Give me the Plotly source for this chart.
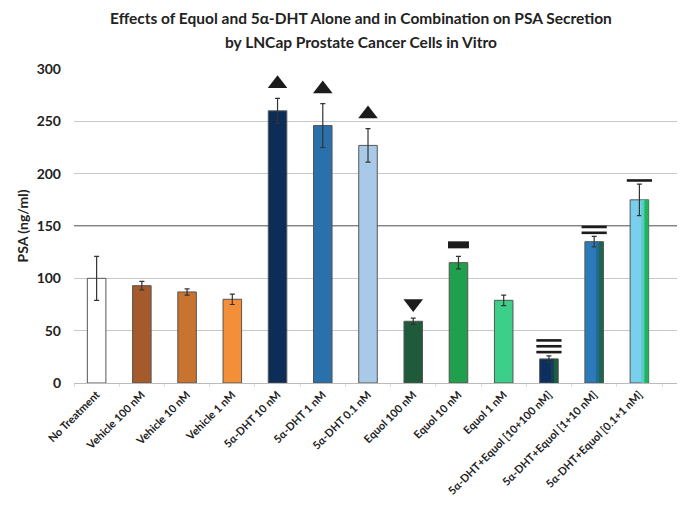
import plotly.graph_objects as go

categories = [
    "No Treatment", "Vehicle 100 nM", "Vehicle 10 nM", "Vehicle 1 nM",
    "5α-DHT 10 nM", "5α-DHT 1 nM", "5α-DHT 0.1 nM",
    "Equol 100 nM", "Equol 10 nM", "Equol 1 nM",
    "5α-DHT+Equol [10+100 nM]", "5α-DHT+Equol [1+10 nM]", "5α-DHT+Equol [0.1+1 nM]",
]
psa = [100, 93, 87, 80, 260, 246, 227, 59, 115, 79, 23, 135, 175]
psa_err = [21, 4, 3, 5, 12, 21, 16, 3, 6, 5, 3, 5, 15]
bar_colors = [
    "#ffffff", "#a55a2c", "#c8732f", "#f28f38",
    "#0c2d57", "#2a71ab", "#a9c9e8",
    "#1f5a3a", "#20a04c", "#3ccf8a",
    "#0d2f60", "#2b7bb8", "#78d0ee",
]
# right-hand colours of the two-tone combination bars
combo_cats = categories[10:]
combo_mid = ["#143f55", "#22699a", "#5ccbc4"]
combo_end = ["#1f5c42", "#1f6648", "#20b45c"]

# significance symbols above bars
sym_cats = ["5α-DHT 10 nM", "5α-DHT 1 nM", "5α-DHT 0.1 nM", "Equol 100 nM"]
sym_kind = ["triangle-up", "triangle-up", "triangle-up", "triangle-down"]
bar_cats = ["Equol 10 nM"]
line_cats = ["5α-DHT+Equol [10+100 nM]", "5α-DHT+Equol [1+10 nM]", "5α-DHT+Equol [0.1+1 nM]"]
line_counts = [3, 2, 1]

title_lines = [
    "Effects of Equol and 5α-DHT Alone and in Combination on PSA Secretion",
    "by LNCap Prostate Cancer Cells in Vitro",
]

top = {c: v + e for c, v, e in zip(categories, psa, psa_err)}
FONT = "Lato, 'Noto Sans', sans-serif"
DARK = "#1c1c1c"

fig = go.Figure()
fig.add_trace(go.Bar(
    x=categories, y=psa, width=0.41,
    marker=dict(color=bar_colors, line=dict(color="#555555", width=1)),
    error_y=dict(type="data", array=psa_err, color="#333333", thickness=1.2, width=2.5),
    showlegend=False,
))
fig.add_trace(go.Bar(
    x=combo_cats, y=psa[10:], width=0.1, offset=0.04,
    marker=dict(color=combo_mid, line=dict(width=0)), showlegend=False,
))
fig.add_trace(go.Bar(
    x=combo_cats, y=psa[10:], width=0.09, offset=0.11,
    marker=dict(color=combo_end, line=dict(width=0)), showlegend=False,
))
fig.update_layout(barmode="overlay")

# triangles
fig.add_trace(go.Scatter(
    x=sym_cats, y=[top[c] + 14 for c in sym_cats], mode="markers",
    marker=dict(symbol=sym_kind, size=17, color=DARK), showlegend=False,
))
# filled block
fig.add_trace(go.Scatter(
    x=bar_cats, y=[top[c] + 11 for c in bar_cats], mode="markers",
    marker=dict(symbol="line-ew", size=15, line=dict(width=7, color=DARK)), showlegend=False,
))
# stacked dashes
lx, ly = [], []
for c, n in zip(line_cats, line_counts):
    for i in range(n):
        lx.append(c)
        ly.append(top[c] + 3.5 + i * 5.6)
fig.add_trace(go.Scatter(
    x=lx, y=ly, mode="markers",
    marker=dict(symbol="line-ew", size=18, line=dict(width=2.6, color=DARK)), showlegend=False,
))

fig.add_hline(y=150, line=dict(color="#5a5a5a", width=1.3), layer="below")

# two-line title, placed as annotations for exact line spacing
for txt, yy in zip(title_lines, [1.162, 1.086]):
    fig.add_annotation(
        text=txt, xref="paper", yref="paper", x=0.473, y=yy,
        xanchor="center", yanchor="middle", showarrow=False,
        font=dict(size=15.5, family=FONT, weight="bold", color="#222222"),
    )

fig.update_layout(
    width=677, height=501,
    margin=dict(l=66, r=4, t=61, b=126, autoexpand=False),
    paper_bgcolor="white", plot_bgcolor="white",
    font=dict(family=FONT, color="#222222"),
    bargap=0.59,
)
fig.update_yaxes(
    range=[0, 300], dtick=50, showgrid=True, gridcolor="#c8c8c8", gridwidth=1,
    zeroline=False, showline=False, automargin=False, ticklabelstandoff=12,
    tickfont=dict(size=14, weight="bold"),
    title=dict(text="PSA (ng/ml)", font=dict(size=14, weight="bold"), standoff=4),
)
fig.update_xaxes(
    tickangle=-45, tickfont=dict(size=11, weight="bold"), automargin=False,
    showline=True, linecolor="#bbbbbb", linewidth=1, showgrid=False,
    ticks="outside", ticklen=3, tickcolor="#dddddd", tickson="boundaries",
)

fig.write_html("out.html")
